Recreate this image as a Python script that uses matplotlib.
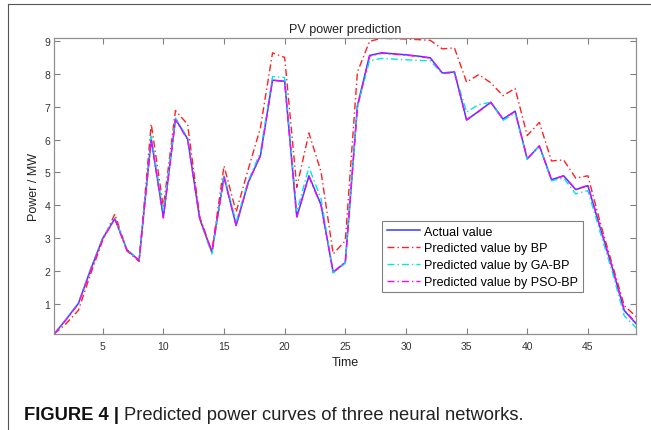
import matplotlib.pyplot as plt
from matplotlib.lines import Line2D

plt.rcParams["font.family"] = ["Liberation Sans", "DejaVu Sans"]

time = list(range(1, 50))
actual = [0.10, 0.55, 1.03, 2.05, 3.00, 3.60, 2.65, 2.34, 6.02, 3.64,
          6.62, 6.02, 3.59, 2.58, 4.88, 3.39, 4.70, 5.51, 7.80, 7.77,
          3.65, 4.90, 4.02, 1.97, 2.27, 7.03, 8.55, 8.63, 8.60, 8.57,
          8.53, 8.48, 8.02, 8.05, 6.59, 6.86, 7.13, 6.62, 6.86, 5.41,
          5.81, 4.78, 4.90, 4.48, 4.60, 3.34, 2.12, 0.81, 0.40]
bp = [0.10, 0.42, 0.82, 1.92, 2.95, 3.74, 2.62, 2.30, 6.47, 3.95,
      6.88, 6.46, 3.65, 2.60, 5.20, 3.80, 5.10, 6.35, 8.63, 8.49,
      4.55, 6.20, 5.02, 2.53, 2.93, 8.05, 8.98, 9.07, 9.06, 9.05,
      9.03, 9.01, 8.75, 8.78, 7.74, 7.97, 7.72, 7.33, 7.55, 6.12,
      6.52, 5.35, 5.38, 4.83, 4.90, 3.50, 2.22, 0.96, 0.62]
ga_bp = [0.10, 0.56, 1.05, 2.08, 3.02, 3.62, 2.66, 2.33, 6.10, 3.80,
         6.65, 6.05, 3.58, 2.52, 4.92, 3.50, 4.75, 5.61, 7.91, 7.88,
         3.80, 5.16, 4.20, 1.95, 2.25, 7.00, 8.39, 8.46, 8.44, 8.42,
         8.40, 8.39, 8.00, 8.03, 6.83, 7.06, 7.13, 6.58, 6.80, 5.40,
         5.80, 4.75, 4.83, 4.35, 4.45, 3.20, 2.00, 0.65, 0.28]
pso_bp = [0.10, 0.54, 1.02, 2.03, 2.98, 3.58, 2.64, 2.33, 6.00, 3.62,
          6.60, 6.00, 3.60, 2.60, 4.85, 3.40, 4.70, 5.50, 7.80, 7.76,
          3.66, 4.88, 4.00, 1.98, 2.28, 6.98, 8.53, 8.62, 8.59, 8.56,
          8.52, 8.47, 8.01, 8.04, 6.60, 6.85, 7.12, 6.63, 6.85, 5.42,
          5.80, 4.79, 4.89, 4.49, 4.61, 3.36, 2.14, 0.83, 0.42]

W, H = 651, 431
fig = plt.figure(figsize=(W / 100, H / 100), dpi=100)
ax = fig.add_axes([54.2 / W, 1 - 335 / H, (636.4 - 54.2) / W, (335 - 39) / H])

dashdot = (5, 2.2, 1, 2.2)
ax.plot(time, actual, color="#3b3bff", lw=1.1, label="Actual value")
ax.plot(time, bp, color="#ff2020", lw=1.0, dashes=dashdot, label="Predicted value by BP")
ax.plot(time, ga_bp, color="#00e5e5", lw=1.0, dashes=dashdot, label="Predicted value by GA-BP")
ax.plot(time, pso_bp, color="#ff00ff", lw=1.0, dashes=dashdot, label="Predicted value by PSO-BP")

ax.set_xlim(1, 49)
ax.set_ylim(0.1, 9.08)
ax.set_xticks(range(5, 50, 5))
ax.set_yticks(range(1, 10))
ax.tick_params(direction="in", length=4, width=0.8, color="#808080",
               labelsize=7.5, labelcolor="#333333", top=True, right=True,
               labeltop=False, labelright=False)
ax.tick_params(axis="x", pad=5)
ax.tick_params(axis="y", pad=3)
for s in ax.spines.values():
    s.set_color("#909090")
    s.set_linewidth(0.9)

ax.set_xlabel("Time", fontsize=9, color="#222222", labelpad=4)
ax.set_ylabel("Power / MW", fontsize=9, color="#222222", labelpad=3)
fig.text((54.2 + 636.4) / 2 / W, 1 - 33.5 / H, "PV power prediction",
         ha="center", va="baseline", fontsize=9, color="#222222")

leg = ax.legend(loc="upper left", bbox_to_anchor=(0.5636, 0.3807),
                borderaxespad=0, fancybox=False, framealpha=1,
                edgecolor="#808080", fontsize=9, handlelength=2.7,
                handletextpad=0.3, labelspacing=0.38, borderpad=0.35)
leg.get_frame().set_linewidth(0.8)

# figure frame (top and left rules)
fig.add_artist(Line2D([8.3 / W, 1], [1 - 5 / H, 1 - 5 / H], color="#555555", lw=0.8))
fig.add_artist(Line2D([8.3 / W, 8.3 / W], [0, 1 - 5 / H], color="#555555", lw=0.8))

# caption
cap1 = fig.text(24 / W, 1 - 420 / H, "FIGURE 4 | ", fontsize=13.2,
                fontweight="bold", va="baseline", color="#111111")
r = fig.canvas.get_renderer()
bb = cap1.get_window_extent(r)
fig.text(bb.x1 / W, 1 - 420 / H, "Predicted power curves of three neural networks.",
         fontsize=13.2, va="baseline", color="#222222")

fig.savefig("out.png", dpi=100)
